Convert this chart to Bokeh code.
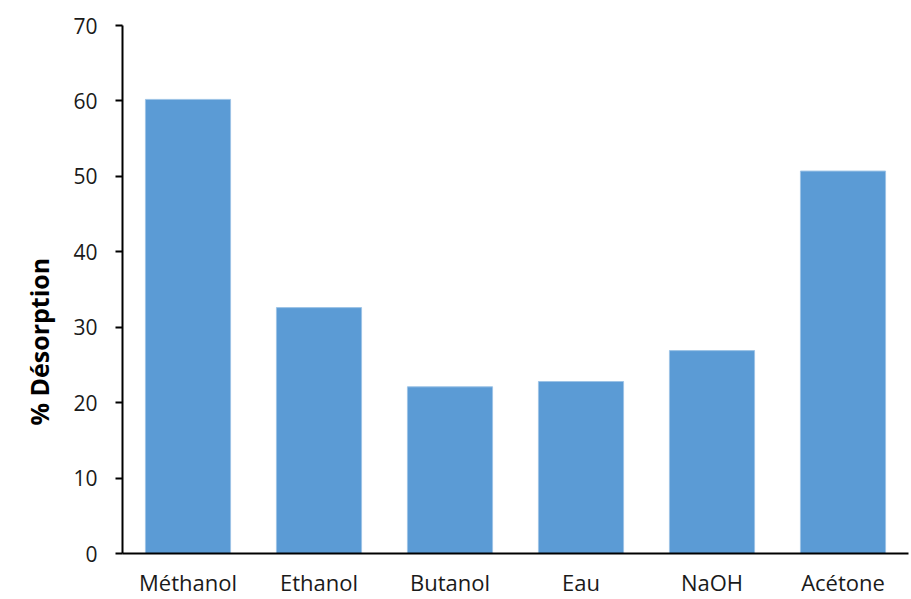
from bokeh.plotting import figure
from bokeh.models import FactorRange, Range1d, FixedTicker, Title
from bokeh.embed import file_html
from bokeh.resources import INLINE

solvents = ["Méthanol", "Ethanol", "Butanol", "Eau", "NaOH", "Acétone"]
desorption = [60.2, 32.6, 22.1, 22.8, 26.9, 50.7]
y_ticks = [0, 10, 20, 30, 40, 50, 60, 70]

FONT = "Open Sans"

p = figure(
    width=911, height=599,
    x_range=FactorRange(factors=solvents),
    y_range=Range1d(0, 70),
    output_backend="svg", toolbar_location=None,
    min_border_left=122, min_border_right=3,
    min_border_top=25, min_border_bottom=46,
)

p.vbar(x=solvents, top=desorption, width=0.65, color="#5B9BD5",
       line_color="#9DC3E6", line_width=1)

p.grid.visible = False
p.outline_line_color = None
p.background_fill_color = "white"
p.border_fill_color = "white"

ya = p.yaxis[0]
ya.ticker = FixedTicker(ticks=y_ticks)
ya.axis_line_color = "black"
ya.axis_line_width = 2
ya.major_tick_line_color = "black"
ya.major_tick_line_width = 2
ya.major_tick_out = 7
ya.major_tick_in = 0
ya.minor_tick_line_color = None
ya.major_label_text_font = FONT
ya.major_label_text_font_size = "21px"
ya.major_label_text_color = "#1a1a1a"
ya.major_label_standoff = 18

# vertical axis title, anchored towards the lower part of the axis
y_title = Title(text="% Désorption", align="left", offset=128, standoff=30,
                text_font=FONT, text_font_style="bold",
                text_font_size="25px", text_color="black")
p.add_layout(y_title, "left")

xa = p.xaxis[0]
xa.axis_line_color = "black"
xa.axis_line_width = 2
xa.major_tick_line_color = None
xa.major_tick_out = 0
xa.major_tick_in = 0
xa.minor_tick_line_color = None
xa.major_label_text_font = FONT
xa.major_label_text_font_size = "22px"
xa.major_label_text_color = "#1a1a1a"
xa.major_label_standoff = 13

open("out.html", "w").write(file_html(p, INLINE))
